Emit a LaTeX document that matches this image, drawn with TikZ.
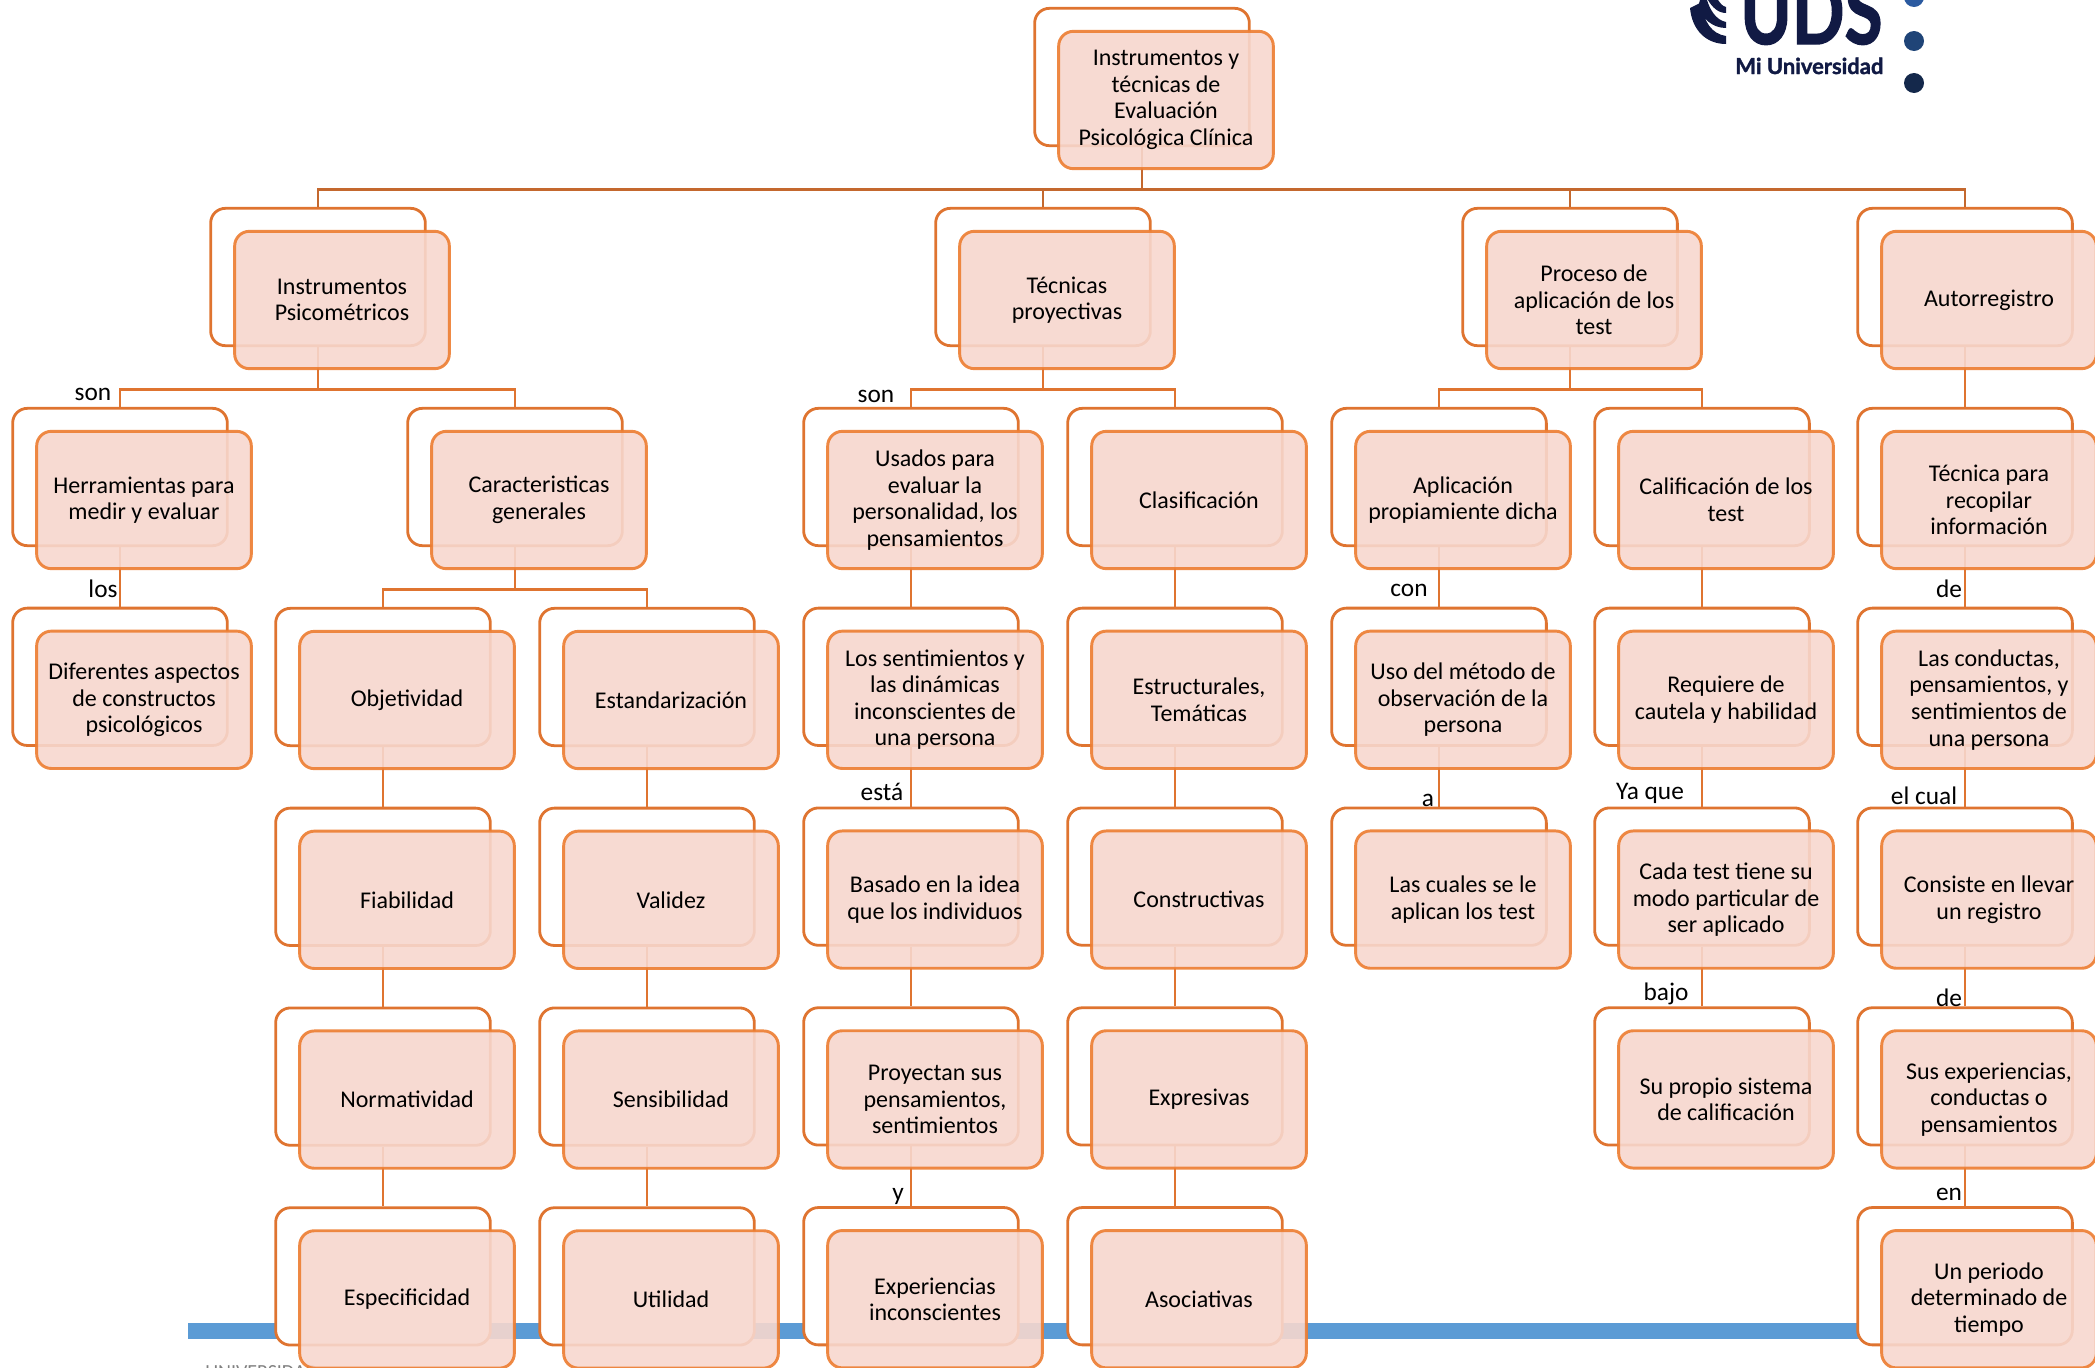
\documentclass[tikz,border=0pt]{standalone}
\usepackage{fontspec}
\setmainfont{Carlito}
\newfontfamily\logofont[BoldFeatures={FakeBold=1.6}]{Lato}
\usetikzlibrary{positioning}
\definecolor{backline}{HTML}{DF7430}
\definecolor{frontline}{HTML}{ED7D31}
\definecolor{frontfill}{HTML}{F7D7CE}
\definecolor{rootline}{HTML}{C4682E}
\definecolor{barblue}{HTML}{5B9BD5}
\definecolor{logonavy}{HTML}{111A44}
\definecolor{dotone}{HTML}{2B5AA0}
\definecolor{dottwo}{HTML}{1F4477}
\definecolor{dotthree}{HTML}{14284B}

\begin{document}
\begin{tikzpicture}[x=.75pt,y=-.75pt,on grid,node distance=149.85pt,
    font=\fontsize{18}{19.9}\selectfont]
    \tikzset{
      backbox/.style={draw=backline,fill=white,line width=2.1pt,rounded corners=11pt,
        minimum width=161pt,minimum height=103pt,inner sep=0pt},
      frontbox/.style={draw=frontline,fill=frontfill,line width=2.2pt,rounded corners=11pt,
        fill opacity=.9,draw opacity=.9,text opacity=1,align=center,
        minimum width=161pt,minimum height=103pt,inner sep=0pt,
        below right=17.25pt and 18pt of #1},
      link/.style={draw=backline,line width=2.2pt},
      tree/.style={to path={-- ++(0,42) -| (\tikztotarget)}},
      lbl/.style={inner sep=0pt,font=\fontsize{19}{22}\selectfont}
    }
    \useasboundingbox (0,0) rectangle (2095,1367);

    \fill[barblue] (188,1323) rectangle (1880,1339);
    \node[anchor=north west,inner sep=0pt,text=gray,font=\fontsize{15}{18}\selectfont] (univ) at (205,1365) {UNIVERSIDAD};

    \node[backbox] (root) at (1142,77) {};

    \node[backbox] (ipc) at (318,277) {};
    \node[backbox] (tec) at (1043,277) {};
    \node[backbox] (pro) at (1570,277) {};
    \node[backbox] (aut) at (1965,277) {};

    \node[backbox] (her) at (120,477) {};
    \node[backbox] (dif) [below = of her] {};

    \node[backbox] (car) at (515,477) {};
    \node[backbox] (obj) at (383,677) {};
    \node[backbox] (fia) [below = of obj] {};
    \node[backbox] (nor) [below = of fia] {};
    \node[backbox] (esp) [below = of nor] {};
    \node[backbox] (est) at (647,677) {};
    \node[backbox] (val) [below = of est] {};
    \node[backbox] (sen) [below = of val] {};
    \node[backbox] (uti) [below = of sen] {};

    \node[backbox] (usa) at (911,477) {};
    \node[backbox] (sto) [below = of usa] {};
    \node[backbox] (bas) [below = of sto] {};
    \node[backbox] (pry) [below = of bas] {};
    \node[backbox] (exi) [below = of pry] {};

    \node[backbox] (cla) at (1175,477) {};
    \node[backbox] (etr) [below = of cla] {};
    \node[backbox] (cns) [below = of etr] {};
    \node[backbox] (exr) [below = of cns] {};
    \node[backbox] (aso) [below = of exr] {};

    \node[backbox] (apl) at (1439,477) {};
    \node[backbox] (uso) [below = of apl] {};
    \node[backbox] (lcu) [below = of uso] {};

    \node[backbox] (cal) at (1702,477) {};
    \node[backbox] (req) [below = of cal] {};
    \node[backbox] (cad) [below = of req] {};
    \node[backbox] (sup) [below = of cad] {};

    \node[backbox] (tcn) at (1965,477) {};
    \node[backbox] (lco) [below = of tcn] {};
    \node[backbox] (reg) [below = of lco] {};
    \node[backbox] (sus) [below = of reg] {};
    \node[backbox] (per) [below = of sus] {};

    \path[link,draw=rootline]
    (root.south)
    edge [tree] (ipc.north)
    edge [tree] (tec.north)
    edge [tree] (pro.north)
    edge [tree] (aut.north);

    \path[link]
    (ipc.south)
    edge [tree] (her.north)
    edge [tree] (car.north)
    (tec.south)
    edge [tree] (usa.north)
    edge [tree] (cla.north)
    (pro.south)
    edge [tree] (apl.north)
    edge [tree] (cal.north)
    (aut.south) edge (tcn.north)
    (her.south) edge (dif.north)
    (car.south)
    edge [tree] (obj.north)
    edge [tree] (est.north)
    (obj.south) edge (fia.north)
    (fia.south) edge (nor.north)
    (nor.south) edge (esp.north)
    (est.south) edge (val.north)
    (val.south) edge (sen.north)
    (sen.south) edge (uti.north)
    (usa.south) edge (sto.north)
    (sto.south) edge (bas.north)
    (bas.south) edge (pry.north)
    (pry.south) edge (exi.north)
    (cla.south) edge (etr.north)
    (etr.south) edge (cns.north)
    (cns.south) edge (exr.north)
    (exr.south) edge (aso.north)
    (apl.south) edge (uso.north)
    (uso.south) edge (lcu.north)
    (cal.south) edge (req.north)
    (req.south) edge (cad.north)
    (cad.south) edge (sup.north)
    (tcn.south) edge (lco.north)
    (lco.south) edge (reg.north)
    (reg.south) edge (sus.north)
    (sus.south) edge (per.north);

    \node[frontbox=root] (rootf) {Instrumentos y\\técnicas de\\Evaluación\\Psicológica Clínica};
    \node[frontbox=ipc] (ipcf) {Instrumentos\\Psicométricos};
    \node[frontbox=tec] (tecf) {Técnicas\\proyectivas};
    \node[frontbox=pro] (prof) {Proceso de\\aplicación de los\\test};
    \node[frontbox=aut] (autf) {Autorregistro};
    \node[frontbox=her] (herf) {Herramientas para\\medir y evaluar};
    \node[frontbox=dif] (diff) {Diferentes aspectos\\de constructos\\psicológicos};
    \node[frontbox=car] (carf) {Caracteristicas\\generales};
    \node[frontbox=obj] (objf) {Objetividad};
    \node[frontbox=fia] (fiaf) {Fiabilidad};
    \node[frontbox=nor] (norf) {Normatividad};
    \node[frontbox=esp] (espf) {Especificidad};
    \node[frontbox=est] (estf) {Estandarización};
    \node[frontbox=val] (valf) {Validez};
    \node[frontbox=sen] (senf) {Sensibilidad};
    \node[frontbox=uti] (utif) {Utilidad};
    \node[frontbox=usa] (usaf) {Usados para\\evaluar la\\personalidad, los\\pensamientos};
    \node[frontbox=sto] (stof) {Los sentimientos y\\las dinámicas\\inconscientes de\\una persona};
    \node[frontbox=bas] (basf) {Basado en la idea\\que los individuos};
    \node[frontbox=pry] (pryf) {Proyectan sus\\pensamientos,\\sentimientos};
    \node[frontbox=exi] (exif) {Experiencias\\inconscientes};
    \node[frontbox=cla] (claf) {Clasificación};
    \node[frontbox=etr] (etrf) {Estructurales,\\Temáticas};
    \node[frontbox=cns] (cnsf) {Constructivas};
    \node[frontbox=exr] (exrf) {Expresivas};
    \node[frontbox=aso] (asof) {Asociativas};
    \node[frontbox=apl] (aplf) {Aplicación\\propiamiente dicha};
    \node[frontbox=uso] (usof) {Uso del método de\\observación de la\\persona};
    \node[frontbox=lcu] (lcuf) {Las cuales se le\\aplican los test};
    \node[frontbox=cal] (calf) {Calificación de los\\test};
    \node[frontbox=req] (reqf) {Requiere de\\cautela y habilidad};
    \node[frontbox=cad] (cadf) {Cada test tiene su\\modo particular de\\ser aplicado};
    \node[frontbox=sup] (supf) {Su propio sistema\\de calificación};
    \node[frontbox=tcn] (tcnf) {Técnica para\\recopilar\\información};
    \node[frontbox=lco] (lcof) {Las conductas,\\pensamientos, y\\sentimientos de\\una persona};
    \node[frontbox=reg] (regf) {Consiste en llevar\\un registro};
    \node[frontbox=sus] (susf) {Sus experiencias,\\conductas o\\pensamientos};
    \node[frontbox=per] (perf) {Un periodo\\determinado de\\tiempo};

    \node[lbl] (l1) at (93,394) {son};
    \node[lbl] (l2) at (103,589) {los};
    \node[lbl] (l3) at (876,396) {son};
    \node[lbl] (l4) at (882,792) {está};
    \node[lbl] (l5) at (898,1196) {y};
    \node[lbl] (l6) at (1409,590) {con};
    \node[lbl] (l7) at (1428,800) {a};
    \node[lbl] (l8) at (1650,793) {Ya que};
    \node[lbl] (l9) at (1666,994) {bajo};
    \node[lbl] (l10) at (1949,589) {de};
    \node[lbl] (l11) at (1924,796) {el cual};
    \node[lbl] (l12) at (1949,998) {de};
    \node[lbl] (l13) at (1949,1194) {en};

    % logo
    \fill[logonavy] (1690,8) .. controls (1692,30) and (1706,44) .. (1726,44) -- (1726,36) .. controls (1712,34) and (1703,22) .. (1702,2) -- cycle;
    \fill[logonavy] (1698,7) .. controls (1702,18) and (1712,28) .. (1726,28) -- (1726,22) .. controls (1716,20) and (1710,10) .. (1707,0) -- (1700,0) -- cycle;
    \fill[logonavy] (1708,0) .. controls (1712,7) and (1718,13) .. (1726,13) -- (1726,7) .. controls (1722,6) and (1720,3) .. (1718,0) -- cycle;
    \node[anchor=base west,inner sep=0pt,text=logonavy,transform shape,yscale=1.3,
      font=\logofont\bfseries\fontsize{52}{60}\selectfont] (uds) at (1740,44) {UDS};
    \node[anchor=base west,inner sep=0pt,text=logonavy,
      font=\logofont\bfseries\fontsize{16.5}{20}\selectfont] (miu) at (1735,74) {Mi Universidad};
    \fill[dotone] (1914,-3) circle (7.5pt);
    \fill[dottwo] (1914,41) circle (7.5pt);
    \fill[dotthree] (1914,83) circle (7.5pt);
\end{tikzpicture}
\end{document}
